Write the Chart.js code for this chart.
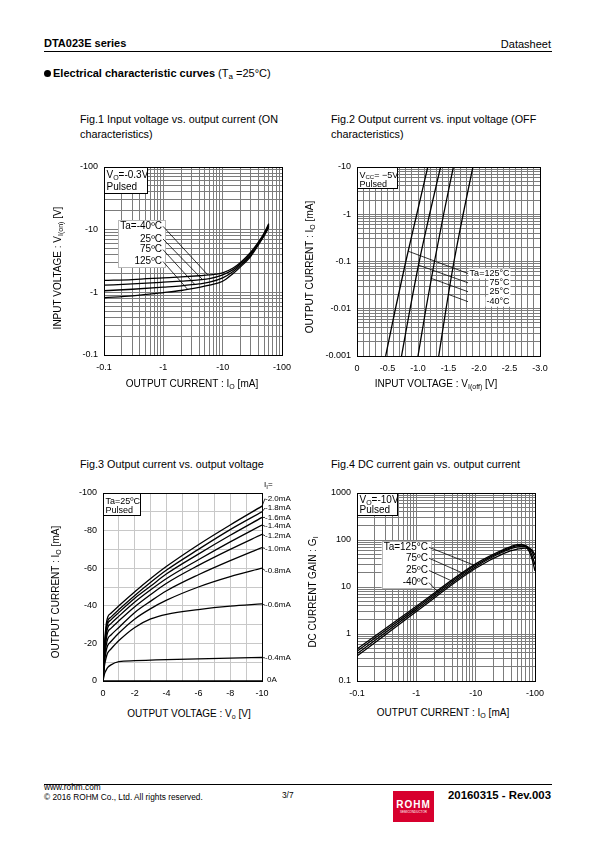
<!DOCTYPE html>
<html>
<head>
<meta charset="utf-8">
<title>DTA023E series - Electrical characteristic curves</title>
<script src="https://cdn.jsdelivr.net/npm/chart.js@4.4.1/dist/chart.umd.min.js"></script>
<style>
  html, body { margin: 0; padding: 0; background: #fff; }
  body { width: 595px; height: 842px; position: relative; overflow: hidden; font-family: "Liberation Sans", Arial, sans-serif; color: #000; }
  .t { position: absolute; white-space: nowrap; }
  .fig { font-size: 10.8px; line-height: 15px; }
  .ax { font-size: 10px; line-height: 12px; }
  .yt { transform: translate(-50%, -50%) rotate(-90deg); }
  .xt { transform: translateX(-50%); }
  sub { font-size: 7px; vertical-align: -2px; line-height: 0; }
  canvas { position: absolute; }
  .rule { position: absolute; left: 44px; width: 508px; height: 1px; background: #000; }
  .dot { display: inline-block; width: 7px; height: 7px; border-radius: 50%; background: #000; margin-right: 2px; vertical-align: 0; }
</style>
</head>
<body>

<div class="t" style="left:44px;top:37px;font-size:11px;line-height:13px;font-weight:bold">DTA023E series</div>
<div class="t" style="right:44px;top:38px;font-size:11px;line-height:13px">Datasheet</div>
<div class="rule" style="top:51px"></div>
<div class="t" style="left:44px;top:67px;font-size:11px;line-height:13px"><span class="dot"></span><b>Electrical characteristic curves</b> (T<sub style="font-size:8px">a</sub> =25°C)</div>

<div class="t fig" style="left:80px;top:112px">Fig.1 Input voltage vs. output current (ON<br>characteristics)</div>
<div class="t fig" style="left:331px;top:112px">Fig.2 Output current vs. input voltage (OFF<br>characteristics)</div>
<div class="t fig" style="left:80px;top:457px">Fig.3 Output current vs. output voltage</div>
<div class="t fig" style="left:331px;top:457px">Fig.4 DC current gain vs. output current</div>

<canvas id="c1" width="240" height="225" style="left:60px;top:155px"></canvas>
<canvas id="c2" width="245" height="225" style="left:313px;top:155px"></canvas>
<canvas id="c3" width="250" height="225" style="left:60px;top:478px"></canvas>
<canvas id="c4" width="245" height="225" style="left:313px;top:478px"></canvas>

<div class="t ax yt" style="left:58px;top:268px">INPUT VOLTAGE : V<sub>I(on)</sub> [V]</div>
<div class="t ax xt" style="left:192px;top:378px">OUTPUT CURRENT : I<sub>O</sub> [mA]</div>
<div class="t ax yt" style="left:310px;top:267px">OUTPUT CURRENT : I<sub>O</sub> [mA]</div>
<div class="t ax xt" style="left:436px;top:378px">INPUT VOLTAGE : V<sub>I(off)</sub> [V]</div>
<div class="t ax yt" style="left:56px;top:592px">OUTPUT CURRENT : I<sub>O</sub> [mA]</div>
<div class="t ax xt" style="left:189px;top:708px">OUTPUT VOLTAGE : V<sub>o</sub> [V]</div>
<div class="t ax yt" style="left:313px;top:592px">DC CURRENT GAIN : G<sub>I</sub></div>
<div class="t ax xt" style="left:443px;top:707px">OUTPUT CURRENT : I<sub>O</sub> [mA]</div>

<div class="rule" style="top:784px"></div>
<div class="t" style="left:44px;top:782px;font-size:8.3px;line-height:10px">www.rohm.com<br>© 2016 ROHM Co., Ltd. All rights reserved.</div>
<div class="t" style="left:282px;top:790px;font-size:8.3px;line-height:10px">3/7</div>
<div style="position:absolute;left:393px;top:791px;width:41px;height:31px;background:#d7002e;color:#fff;text-align:center">
  <div style="font-weight:bold;font-size:10px;line-height:10px;letter-spacing:1px;margin-top:9px">ROHM</div>
  <div style="font-size:3px;line-height:4px">SEMICONDUCTOR</div>
</div>
<div class="t" style="right:44px;top:789px;font-size:11.4px;line-height:13px;font-weight:bold">20160315 - Rev.003</div>

<script>
const FONT = '"Liberation Sans", Arial, sans-serif';
Chart.defaults.font.family = FONT;
Chart.defaults.color = '#000';

// Fig.1  input voltage Vi(on) [V] vs output current Io [mA]
const fig1Io = [0.1, 0.3, 1, 2, 4, 6, 10, 15, 20, 30, 40, 50, 60];
const fig1ViM40 = [1.55, 1.6, 1.7, 1.76, 1.84, 1.9, 2.05, 2.45, 3.0, 4.4, 6.3, 8.8, 12.5];
const fig1Vi25 = [1.3, 1.36, 1.45, 1.51, 1.58, 1.65, 1.9, 2.3, 2.85, 4.2, 6.1, 8.5, 12.0];
const fig1Vi75 = [1.06, 1.12, 1.21, 1.27, 1.36, 1.45, 1.7, 2.15, 2.7, 4.0, 5.9, 8.2, 11.4];
const fig1Vi125 = [0.82, 0.88, 0.99, 1.07, 1.2, 1.3, 1.5, 2.0, 2.55, 3.8, 5.7, 8.0, 10.9];
const fig1Names = ['Ta=-40ºC', '25ºC', '75ºC', '125ºC'];
const fig1NameIo = 0.95;
const fig1NameVi = [11.3, 7.1, 4.8, 3.1];
const fig1Lead = [[5.6, 1.91], [4.6, 1.59], [3.4, 1.33], [2.6, 1.1]];
const fig1XLabels = ['-0.1', '-1', '-10', '-100'];
const fig1YLabels = ['-0.1', '-1', '-10', '-100'];

// Fig.2  output current Io [mA] vs input voltage Vi(off) [V]
const fig2Io = [0.001, 0.01, 0.1, 1, 10];
const fig2Vi125 = [0.47, 0.63, 0.80, 0.98, 1.16];
const fig2Vi75 = [0.73, 0.87, 1.02, 1.19, 1.37];
const fig2Vi25 = [1.0, 1.13, 1.27, 1.42, 1.58];
const fig2ViM40 = [1.34, 1.46, 1.59, 1.74, 1.90];
const fig2Names = ['Ta=125°C', '75°C', '25°C', '-40°C'];
const fig2NameVi = 2.5;
const fig2NameIo = [0.0557, 0.0354, 0.0229, 0.0141];
const fig2LeadEnd = 1.82;
const fig2Lead = [[0.84, 0.165], [1.01, 0.0837], [1.22, 0.0438], [1.50, 0.0201]];
const fig2XLabels = ['0', '-0.5', '-1.0', '-1.5', '-2.0', '-2.5', '-3.0'];
const fig2YLabels = ['-0.001', '-0.01', '-0.1', '-1', '-10'];

// Fig.3  output current Io [mA] vs output voltage Vo [V]
const fig3Vo = [0, 0.1, 0.2, 0.3, 0.5, 1, 2, 3, 4, 6, 8, 10];
const fig3Ii20 = [0, 20, 30, 34, 36, 40, 47.5, 54.5, 61, 72.5, 83, 93];
const fig3Ii18 = [0, 18, 28, 32, 34, 38, 45.5, 52.5, 59, 70, 80.5, 90];
const fig3Ii16 = [0, 17, 26.5, 30.5, 32.5, 36.5, 44, 50.5, 57, 67.5, 77.5, 87];
const fig3Ii14 = [0, 15.5, 24.5, 28.5, 30.5, 34.5, 42, 48.5, 54.5, 64.5, 74, 83];
const fig3Ii12 = [0, 14, 22, 26, 28, 32, 39.5, 46, 52, 61.5, 70, 78];
const fig3Ii10 = [0, 12.5, 19, 22.5, 24.5, 28.5, 36.5, 42.5, 48, 56.5, 64, 71];
const fig3Ii08 = [0, 10.5, 16, 19, 21, 25.5, 33, 38.5, 43, 50, 55.5, 60];
const fig3Ii06 = [0, 8.5, 12.5, 15, 17, 21.5, 28.5, 33, 35.5, 38, 39.8, 41];
const fig3Ii04 = [0, 4, 5.8, 7.2, 8.6, 10.3, 10.8, 11.1, 11.4, 11.8, 12.2, 12.5];
const fig3Ii00 = [0, 0, 0, 0, 0, 0, 0, 0, 0, 0, 0, 0];
const fig3Curves = [fig3Ii20, fig3Ii18, fig3Ii16, fig3Ii14, fig3Ii12, fig3Ii10, fig3Ii08, fig3Ii06, fig3Ii04, fig3Ii00];
const fig3Names = ['-2.0mA', '-1.8mA', '-1.6mA', '-1.4mA', '-1.2mA', '-1.0mA', '-0.8mA', '-0.6mA', '-0.4mA', '0A'];
const fig3NameIo = [97, 92, 87, 82.3, 77.3, 70.5, 58.8, 40.3, 12.3, 0.8];
const fig3XLabels = ['0', '-2', '-4', '-6', '-8', '-10'];
const fig3YLabels = ['0', '-20', '-40', '-60', '-80', '-100'];

// Fig.4  DC current gain Gi vs output current Io [mA]
const fig4Io = [0.1, 1, 10, 30, 50, 60, 70, 80, 90, 100];
const fig4Gi125 = [0.48, 3.9, 31, 63, 80, 81, 72, 57, 38, 22];
const fig4Gi75 = [0.43, 3.6, 29, 60, 76, 78, 76, 64, 45, 30];
const fig4Gi25 = [0.38, 3.3, 27, 57, 71, 73, 73, 68, 55, 40];
const fig4GiM40 = [0.34, 3.0, 25, 52, 64, 66, 67, 66, 60, 48];
const fig4Names = ['Ta=125°C', '75ºC', '25ºC', '-40ºC'];
const fig4NameIo = 1.57;
const fig4NameGi = [70, 41, 22.5, 12.4];
const fig4Lead = [[9.5, 29], [6.2, 19.5], [4.2, 13], [2.4, 7.5]];
const fig4XLabels = ['-0.1', '-1', '-10', '-100'];
const fig4YLabels = ['0.1', '1', '10', '100', '1000'];

const GRID_DARK = '#7c7c7c';
const GRID_LIGHT = '#c8c8c8';

function decades(min, max) {
  const out = [];
  for (let e = Math.round(Math.log10(min)); e < Math.round(Math.log10(max)); e++) {
    for (let m = 1; m < 10; m++) out.push(Number((m * Math.pow(10, e)).toPrecision(4)));
  }
  out.push(max);
  return out;
}

function logAxis(min, max, labels, grid, pad, fit) {
  const majors = decades(min, max).filter(v => Math.abs(Math.log10(v) - Math.round(Math.log10(v))) < 1e-9);
  return {
    type: 'logarithmic', min, max,
    afterBuildTicks: s => { s.ticks = decades(min, max).map(v => ({ value: v })); },
    afterFit: fit,
    grid: { color: grid, lineWidth: 1, drawTicks: false },
    border: { color: '#000', width: 1 },
    ticks: {
      autoSkip: false, maxRotation: 0, padding: pad, color: '#000', font: { size: 9 },
      callback: v => { const i = majors.findIndex(m => Math.abs(m - v) / m < 1e-6); return i >= 0 ? labels[i] : ''; }
    }
  };
}

function linAxis(min, max, step, every, labels, grid, pad, fit) {
  return {
    type: 'linear', min, max,
    afterFit: fit,
    grid: { color: grid, lineWidth: 1, drawTicks: false },
    border: { color: '#000', width: 1 },
    ticks: {
      stepSize: step, autoSkip: false, maxRotation: 0, padding: pad, color: '#000', font: { size: 9 },
      callback: v => { const k = Math.round(v / step); return k % every === 0 ? labels[k / every] : ''; }
    }
  };
}

function curve(xs, ys) {
  return {
    data: xs.map((x, i) => ({ x, y: ys[i] })),
    showLine: true, pointRadius: 0, borderColor: '#000', borderWidth: 1.3,
    cubicInterpolationMode: 'monotone', fill: false
  };
}

function frame(chart) {
  const { ctx, chartArea: a } = chart;
  ctx.save();
  ctx.strokeStyle = '#000';
  ctx.lineWidth = 1;
  ctx.strokeRect(Math.round(a.left) + 0.5, Math.round(a.top) + 0.5, Math.round(a.right - a.left), Math.round(a.bottom - a.top));
  ctx.restore();
}

// text with subscript pieces: segs = [[text, isSub], ...]
function rich(ctx, segs, x, y, size, align) {
  const f = s => (s[1] ? Math.round(size * 0.72) : size) + 'px ' + FONT;
  let w = 0;
  segs.forEach(s => { ctx.font = f(s); w += ctx.measureText(s[0]).width; });
  let cx = align === 'right' ? x - w : x;
  ctx.textAlign = 'left';
  ctx.textBaseline = 'alphabetic';
  segs.forEach(s => {
    ctx.font = f(s);
    ctx.fillText(s[0], cx, y + (s[1] ? size * 0.22 : 0));
    cx += ctx.measureText(s[0]).width;
  });
  return w;
}

function condBox(chart, lines, size, w, h, first, gap) {
  const { ctx, chartArea: a } = chart;
  const l = Math.round(a.left), t = Math.round(a.top);
  ctx.save();
  ctx.fillStyle = '#fff';
  ctx.fillRect(l, t, w, h);
  ctx.strokeStyle = '#000';
  ctx.lineWidth = 1;
  ctx.strokeRect(l + 0.5, t + 0.5, w, h);
  ctx.fillStyle = '#000';
  lines.forEach((segs, i) => rich(ctx, segs, l + 2.5, t + first + i * gap, size, 'left'));
  ctx.restore();
}

function tempLabels(chart, names, atX, ys, leads, size, opt) {
  const { ctx, scales: { x: sx, y: sy } } = chart;
  ctx.save();
  ctx.font = size + 'px ' + FONT;
  const px = sx.getPixelForValue(atX);
  const pys = ys.map(v => sy.getPixelForValue(v));
  const widths = names.map(n => ctx.measureText(n).width);
  ctx.fillStyle = '#fff';
  if (opt.box) {
    const l = px - Math.max(...widths) - 2, t = pys[0] - size * 0.6, b = pys[pys.length - 1] + size * 0.6;
    ctx.fillRect(l, t, px + 3 - l, b - t);
    ctx.strokeStyle = '#b8b8b8';
    ctx.lineWidth = 1;
    ctx.strokeRect(Math.round(l) + 0.5, Math.round(t) + 0.5, Math.round(px + 3 - l), Math.round(b - t));
  } else {
    names.forEach((n, i) => ctx.fillRect(px - widths[i] - 1, pys[i] - size * 0.55, widths[i] + 2, size * 1.1));
  }
  ctx.strokeStyle = '#000';
  ctx.lineWidth = 0.8;
  leads.forEach((p, i) => {
    const fx = opt.from !== undefined ? sx.getPixelForValue(opt.from) : px + 1;
    ctx.beginPath();
    ctx.moveTo(fx, pys[i]);
    ctx.lineTo(sx.getPixelForValue(p[0]), sy.getPixelForValue(p[1]));
    ctx.stroke();
  });
  ctx.fillStyle = '#000';
  ctx.textAlign = 'right';
  ctx.textBaseline = 'middle';
  names.forEach((n, i) => ctx.fillText(n, px, pys[i]));
  ctx.restore();
}

function makeChart(id, box, datasets, xAxis, yAxis, draw) {
  return new Chart(document.getElementById(id), {
    type: 'scatter',
    data: { datasets },
    options: {
      responsive: false, animation: false, devicePixelRatio: 1,
      layout: { padding: { left: 0, top: box.top, right: box.right, bottom: 0 } },
      plugins: { legend: { display: false }, tooltip: { enabled: false } },
      scales: { x: xAxis, y: yAxis }
    },
    plugins: [{ id: 'notes' + id, afterDatasetsDraw: chart => { draw(chart); frame(chart); } }]
  });
}

// Fig.1
makeChart('c1', { top: 12, right: 18 },
  [curve(fig1Io, fig1ViM40), curve(fig1Io, fig1Vi25), curve(fig1Io, fig1Vi75), curve(fig1Io, fig1Vi125)],
  logAxis(0.1, 100, fig1XLabels, GRID_DARK, 7, s => { s.height = 25; }),
  logAxis(0.1, 100, fig1YLabels, GRID_DARK, 6, s => { s.width = 44; }),
  chart => {
    condBox(chart, [[['V'], ['O', 1], ['=-0.3V']], [['Pulsed']]], 10, 43, 26, 10.5, 12);
    tempLabels(chart, fig1Names, fig1NameIo, fig1NameVi, fig1Lead, 10, { box: true });
  });

// Fig.2
makeChart('c2', { top: 12, right: 18 },
  [curve(fig2Vi125, fig2Io), curve(fig2Vi75, fig2Io), curve(fig2Vi25, fig2Io), curve(fig2ViM40, fig2Io)],
  linAxis(0, 3, 0.1, 5, fig2XLabels, GRID_DARK, 7, s => { s.height = 24; }),
  logAxis(0.001, 10, fig2YLabels, GRID_DARK, 6, s => { s.width = 44; }),
  chart => {
    condBox(chart, [[['V'], ['CC', 1], ['= −5V']], [['Pulsed']]], 9, 40, 21, 10.5, 9);
    tempLabels(chart, fig2Names, fig2NameVi, fig2NameIo, fig2Lead, 9, { box: false, from: fig2LeadEnd });
  });

// Fig.3
makeChart('c3', { top: 15, right: 48 },
  fig3Curves.map(c => curve(fig3Vo, c)),
  linAxis(0, 10, 1, 2, fig3XLabels, GRID_LIGHT, 7, s => { s.height = 22; }),
  linAxis(0, 100, 10, 2, fig3YLabels, GRID_LIGHT, 6, s => { s.width = 43; }),
  chart => {
    const { ctx, chartArea: a, scales: { y } } = chart;
    condBox(chart, [[['Ta=25ºC']], [['Pulsed']]], 9, 37, 22, 10.5, 9);
    ctx.save();
    ctx.strokeStyle = '#000';
    ctx.lineWidth = 0.8;
    ctx.fillStyle = '#000';
    fig3Names.forEach((n, i) => {
      const c = fig3Curves[i];
      const ye = y.getPixelForValue(c[c.length - 1]);
      const yl = y.getPixelForValue(fig3NameIo[i]);
      if (i < fig3Names.length - 1) {
        ctx.beginPath();
        ctx.moveTo(a.right, ye);
        ctx.lineTo(a.right + 3, yl);
        ctx.stroke();
      }
      ctx.font = '8px ' + FONT;
      ctx.textAlign = 'left';
      ctx.textBaseline = 'middle';
      ctx.fillText(n, a.right + (i < fig3Names.length - 1 ? 3 : 5), yl);
    });
    rich(ctx, [['I'], ['I', 1], ['=']], a.right + 2, a.top - 6, 8, 'left');
    ctx.restore();
  });

// Fig.4
makeChart('c4', { top: 15, right: 23 },
  [curve(fig4Io, fig4Gi125), curve(fig4Io, fig4Gi75), curve(fig4Io, fig4Gi25), curve(fig4Io, fig4GiM40)],
  logAxis(0.1, 100, fig4XLabels, GRID_DARK, 7, s => { s.height = 22; }),
  logAxis(0.1, 1000, fig4YLabels, GRID_DARK, 6, s => { s.width = 44; }),
  chart => {
    condBox(chart, [[['V'], ['O', 1], ['=-10V']], [['Pulsed']]], 10, 40, 22, 10, 9.5);
    tempLabels(chart, fig4Names, fig4NameIo, fig4NameGi, fig4Lead, 10, { box: true });
  });
</script>
</body>
</html>
